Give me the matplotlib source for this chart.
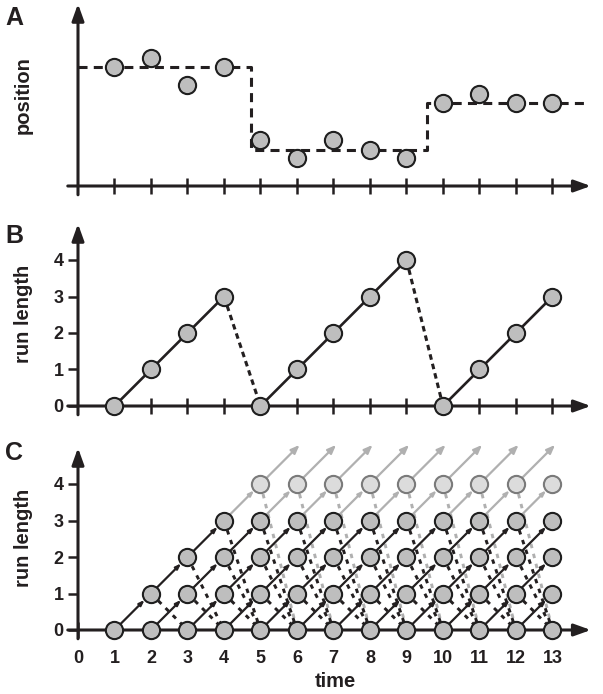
import numpy as np
import matplotlib.pyplot as plt

plt.rcParams['font.family'] = ['Liberation Sans', 'DejaVu Sans']
plt.rcParams['font.weight'] = 'bold'
plt.rcParams['lines.scale_dashes'] = False

# panel A: observed positions and the piecewise constant mean
time = np.arange(1, 14)
position = [3.26, 3.51, 2.77, 3.26, 1.26, 0.77, 1.26, 0.99, 0.77, 2.27, 2.52, 2.27, 2.27]
seg_start = [0, 4.75, 9.55]
seg_end = [4.75, 9.55, 14.0]
seg_level = [3.26, 0.99, 2.27]

# panel B: run length of one path
run_length = [0, 1, 2, 3, 0, 1, 2, 3, 4, 0, 1, 2, 3]

# panel C: lattice of all run lengths
max_run = 4
rl_ticks = [0, 1, 2, 3, 4]
time_ticks = np.arange(0, 14)

W, H = 603, 694
U = 36.5          # px per data unit
X0 = 78           # px of x = 0
axc = '#231f20'
node_fc, node_ec = '#bebebe', '#1e1e1e'
light_fc, light_ec, light_ln = '#dcdcdc', '#7a7a7a', '#b0b0b0'
ms = 12.4

fig = plt.figure(figsize=(W / 100, H / 100), dpi=100)


def make_ax(top, bottom, y0):
    ax = fig.add_axes([40 / W, 1 - bottom / H, 560 / W, (bottom - top) / H])
    ax.set_xlim((40 - X0) / U, (600 - X0) / U)
    ax.set_ylim((y0 - bottom) / U, (y0 - top) / U)
    for s in ax.spines.values():
        s.set_visible(False)
    ax.spines['left'].set_position(('data', 0))
    ax.spines['bottom'].set_position(('data', 0))
    ax.patch.set_alpha(0)
    # axis arrows
    ax.annotate('', xy=(14.05, 0), xytext=(-0.28, 0),
                arrowprops=dict(arrowstyle='-|>,head_length=0.5,head_width=0.18',
                                lw=2.2, color=axc, shrinkA=0, shrinkB=0,
                                mutation_scale=20), annotation_clip=False)
    ax.annotate('', xy=(0, 4.99), xytext=(0, -0.24),
                arrowprops=dict(arrowstyle='-|>,head_length=0.5,head_width=0.18',
                                lw=2.2, color=axc, shrinkA=0, shrinkB=0,
                                mutation_scale=20), annotation_clip=False)
    ax.tick_params(axis='x', direction='inout', length=11.5, width=1.8, color=axc)
    ax.tick_params(axis='y', direction='out', length=7, width=1.8, color=axc,
                   labelsize=13, pad=3.5, labelcolor=axc)
    ax.set_xticks(time)
    ax.set_xticklabels([])
    return ax


def node(ax, x, y, light=False):
    if light:
        ax.plot(x, y, 'o', ms=ms, mfc=light_fc, mec=light_ec, mew=1.5, zorder=4,
                clip_on=False)
    else:
        ax.plot(x, y, 'o', ms=ms, mfc=node_fc, mec=node_ec, mew=1.5, zorder=5,
                clip_on=False)


# ---- A
axA = make_ax(0, 200, 186)
axA.set_yticks([])
sx, sy = [], []
for s, e, l in zip(seg_start, seg_end, seg_level):
    sx += [s, e]
    sy += [l, l]
axA.plot(sx, sy, color=axc, lw=2.2, dashes=(6.5, 4.5), zorder=2)
node(axA, time, position)
axA.set_ylabel('position', fontsize=14.5, fontweight='bold', color=axc)
axA.yaxis.set_label_coords((33 - 40) / 560, (200 - 95) / 200)

# ---- B
axB = make_ax(215, 420, 406)
axB.set_yticks(rl_ticks)
for i in range(len(time) - 1):
    if run_length[i + 1] > run_length[i]:
        axB.plot(time[i:i + 2], run_length[i:i + 2], color=axc, lw=1.9, zorder=2)
    else:
        axB.plot(time[i:i + 2], run_length[i:i + 2], color=axc, lw=2.2,
                 dashes=(4.0, 3.0), zorder=2)
node(axB, time, run_length)
axB.set_ylabel('run length', fontsize=14.5, fontweight='bold', color=axc)
axB.yaxis.set_label_coords((33 - 40) / 560, (420 - 314) / 205)

# ---- C
axC = make_ax(438, 645, 630)
axC.set_yticks(rl_ticks)
axC.set_xticks(time_ticks)
axC.set_xticklabels([str(t) for t in time_ticks])
axC.tick_params(axis='x', labelsize=13, pad=9, labelcolor=axc)
head = '-|>,head_length=0.3,head_width=0.11'
for t in time:
    for r in range(0, min(t - 1, max_run) + 1):
        node(axC, t, r, light=(r == max_run))
        if t == time[-1]:
            continue
        # growth
        if r + 1 < max_run:
            axC.annotate('', xy=(t + 1, r + 1), xytext=(t, r),
                         arrowprops=dict(arrowstyle=head, lw=1.6, color=axc,
                                         shrinkA=0, shrinkB=6.5, mutation_scale=10),
                         zorder=2)
        elif r + 1 == max_run:
            axC.annotate('', xy=(t + 1, r + 1), xytext=(t, r),
                         arrowprops=dict(arrowstyle=head, lw=1.6, color=light_ln,
                                         shrinkA=0, shrinkB=6.5, mutation_scale=10),
                         zorder=1)
        else:
            axC.annotate('', xy=(t + 1.07, r + 1.07), xytext=(t, r),
                         arrowprops=dict(arrowstyle='-|>,head_length=0.5,head_width=0.2',
                                         lw=1.6, color=light_ln, shrinkA=0, shrinkB=0,
                                         mutation_scale=10),
                         zorder=1, annotation_clip=False)
        # changepoint
        if r >= 1:
            c = light_ln if r == max_run else axc
            axC.plot([t, t + 1], [r, 0], color=c, lw=2.1, dashes=(3.2, 4.2),
                     zorder=1 if r == max_run else 2)
axC.set_ylabel('run length', fontsize=14.5, fontweight='bold', color=axc)
axC.yaxis.set_label_coords((33 - 40) / 560, (645 - 538) / 207)
axC.set_xlabel('time', fontsize=14.5, fontweight='bold', color=axc)
axC.xaxis.set_label_coords((335 - 40) / 560, -(672 - 645) / 207)

for lab, x, y in [('A', 14, 18), ('B', 14, 236), ('C', 14, 453)]:
    fig.text(x / W, 1 - y / H, lab, fontsize=18, fontweight='bold', color=axc,
             ha='center', va='center')

fig.savefig('out.png', dpi=100)
